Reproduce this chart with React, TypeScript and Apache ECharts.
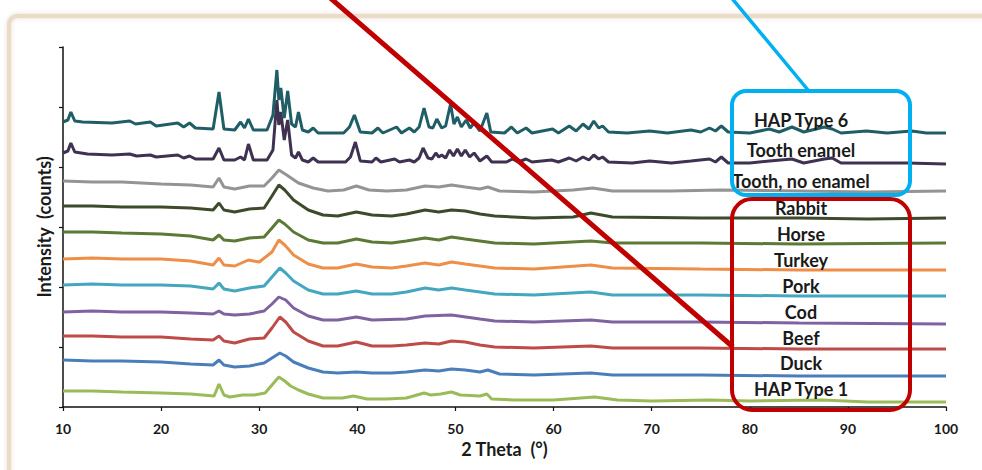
import React, { useEffect, useRef } from "react";
import * as echarts from "echarts";

// 2-theta (deg), intensity (arbitrary counts, stacked offsets)
const hapType1: [number, number][] = [
  [10, 160], [13, 160], [16, 150], [20, 140], [23, 130], [25.4, 110], [25.9, 230], [26.4, 120], [27, 100],
  [28.3, 120], [29.5, 120], [30.6, 140], [31.3, 220], [32, 300], [32.6, 260], [33.2, 210], [34, 170], [35, 130],
  [36.5, 90], [38.5, 90], [39.6, 110], [41, 80], [43, 80], [45, 90], [46.8, 140], [47.5, 120], [48.5, 130],
  [49.6, 150], [50.5, 120], [52.5, 110], [53.2, 130], [53.7, 80], [56, 70], [60, 70], [64.2, 100], [66.5, 70],
  [70, 60], [75.9, 70], [80, 60], [87.4, 70], [92, 50], [100, 50],
];
const duck: [number, number][] = [
  [10, 470], [13, 460], [16, 460], [20, 450], [23, 430], [25.3, 420], [25.9, 470], [26.4, 420], [27.5, 400],
  [29, 410], [30.5, 440], [31.3, 490], [32.1, 540], [32.7, 510], [33.5, 450], [35, 390], [36.5, 350], [38, 340],
  [39.9, 350], [41.5, 340], [43.5, 340], [45, 350], [46.9, 370], [48.3, 360], [49.6, 380], [51, 370], [52.5, 350],
  [53.3, 370], [54.5, 330], [58, 320], [63.8, 340], [66, 320], [75, 320], [85, 310], [100, 310],
];
const beef: [number, number][] = [
  [10, 710], [13, 710], [16, 700], [20, 700], [23, 680], [25.3, 670], [25.9, 710], [26.4, 660], [27.5, 640],
  [29, 680], [30.5, 690], [31.3, 790], [32.1, 900], [32.7, 850], [33.5, 750], [35, 660], [36.5, 610], [38, 610],
  [39.9, 650], [41.5, 610], [43.5, 610], [45, 620], [46.9, 640], [48.3, 630], [49.6, 660], [51, 650], [52.5, 620],
  [54, 600], [58, 590], [63.8, 610], [66, 590], [75, 590], [85, 580], [100, 580],
];
const cod: [number, number][] = [
  [10, 950], [13, 960], [16, 950], [20, 950], [23, 940], [25.3, 930], [25.9, 960], [26.4, 930], [27.5, 920],
  [29, 930], [30.5, 960], [31.3, 1030], [32, 1100], [32.7, 1070], [33.5, 990], [35, 910], [36.5, 870], [38, 870],
  [39.9, 900], [41.5, 870], [45, 880], [46.9, 910], [49.6, 920], [52.5, 880], [54, 860], [58, 850], [63.8, 870],
  [66, 850], [75, 850], [85, 840], [100, 830],
];
const pork: [number, number][] = [
  [10, 1220], [13, 1230], [16, 1220], [20, 1220], [23, 1210], [25.3, 1180], [25.9, 1240], [26.4, 1180], [27.5, 1160],
  [29, 1190], [30.5, 1210], [31.3, 1300], [32.1, 1390], [32.7, 1340], [33.5, 1260], [35, 1170], [36.5, 1130], [38, 1130],
  [39.9, 1160], [41.5, 1130], [43.5, 1130], [45, 1150], [46.9, 1190], [48.3, 1170], [49.6, 1190], [51, 1170], [52.5, 1150],
  [54, 1130], [58, 1120], [63.8, 1150], [66, 1120], [75, 1120], [85, 1110], [100, 1110],
];
const turkey: [number, number][] = [
  [10, 1480], [13, 1490], [16, 1480], [20, 1480], [23, 1460], [25.3, 1420], [25.9, 1490], [26.4, 1420], [27.5, 1410],
  [28.9, 1470], [30, 1450], [31.3, 1550], [32, 1670], [32.6, 1620], [33.5, 1520], [35, 1430], [36.5, 1390], [38, 1390],
  [39.9, 1430], [41.5, 1400], [43.5, 1390], [45, 1410], [46.9, 1440], [48.3, 1420], [49.6, 1450], [51, 1430], [52.5, 1410],
  [54, 1390], [58, 1380], [63.8, 1420], [66, 1390], [75, 1380], [85, 1370], [100, 1370],
];
const horse: [number, number][] = [
  [10, 1750], [13, 1750], [16, 1740], [20, 1730], [23, 1710], [25.3, 1670], [25.9, 1720], [26.4, 1670], [27.5, 1660],
  [29, 1690], [30.5, 1700], [31.3, 1790], [32, 1870], [32.6, 1830], [33.5, 1750], [35, 1670], [36.5, 1640], [38, 1640],
  [39.9, 1680], [41.5, 1650], [43.5, 1640], [45, 1660], [46.9, 1690], [48.3, 1670], [49.6, 1700], [51, 1680], [52.5, 1660],
  [54, 1640], [58, 1630], [63.8, 1660], [66, 1640], [75, 1640], [85, 1630], [100, 1640],
];
const rabbit: [number, number][] = [
  [10, 2010], [13, 2010], [16, 2000], [20, 2000], [23, 1990], [25.3, 1970], [25.9, 2040], [26.4, 1970], [27.5, 1950],
  [29, 1980], [30.5, 1990], [31.3, 2110], [32, 2220], [32.6, 2170], [33.5, 2070], [35, 1970], [36.5, 1920], [38, 1910],
  [39.9, 1950], [41.5, 1920], [43.5, 1910], [45, 1930], [46.9, 1970], [48.3, 1950], [49.6, 1970], [51, 1960], [52.5, 1930],
  [54, 1910], [58, 1890], [62, 1900], [63.8, 1940], [66, 1900], [75, 1890], [85, 1890], [92, 1880], [100, 1890],
];
const toothNoEnamel: [number, number][] = [
  [10, 2260], [13, 2250], [16, 2250], [20, 2230], [23, 2220], [25.3, 2200], [25.9, 2290], [26.4, 2200], [27.5, 2180],
  [29, 2210], [30.5, 2210], [31.3, 2290], [32, 2370], [32.8, 2320], [34, 2240], [35.5, 2190], [37, 2160], [38.6, 2170],
  [39.9, 2210], [41.2, 2170], [43, 2160], [45, 2170], [46.9, 2210], [48.3, 2200], [49.6, 2220], [51, 2200], [52.5, 2180],
  [53.3, 2200], [54.5, 2160], [58, 2150], [62, 2170], [64, 2190], [66, 2160], [72, 2160], [77, 2170], [85, 2160],
  [92, 2150], [100, 2160],
];
const toothEnamel: [number, number][] = [
  [10, 2540], [10.5, 2560], [10.8, 2640], [11.2, 2550], [12.5, 2530], [15, 2520], [16.8, 2530], [17.5, 2510], [18.9, 2520],
  [19.5, 2500], [21.7, 2520], [22.3, 2490], [22.9, 2510], [23.5, 2480], [25.3, 2480], [25.9, 2590], [26.4, 2470],
  [27.5, 2470], [28.1, 2500], [28.5, 2470], [28.9, 2630], [29.4, 2470], [30.8, 2470], [31.4, 2570], [31.8, 3070],
  [32, 2820], [32.2, 2950], [32.55, 2670], [32.9, 2870], [33.3, 2520], [33.7, 2490], [34, 2550], [34.4, 2470],
  [35, 2450], [35.5, 2490], [36, 2450], [38.8, 2450], [39.3, 2500], [39.8, 2650], [40.3, 2460], [41.5, 2450],
  [41.9, 2490], [42.4, 2450], [43.8, 2480], [44.3, 2450], [45.3, 2470], [45.8, 2450], [46.3, 2490], [46.7, 2590],
  [47.2, 2490], [47.6, 2480], [48, 2540], [48.3, 2500], [48.6, 2520], [49, 2490], [49.4, 2570], [49.8, 2510],
  [50.2, 2580], [50.6, 2510], [51, 2570], [51.45, 2500], [51.9, 2540], [52.5, 2460], [53.2, 2510], [53.7, 2450],
  [55.2, 2450], [55.8, 2480], [56.4, 2450], [57.2, 2480], [57.8, 2450], [59.8, 2470], [60.5, 2450], [61.6, 2490],
  [62.3, 2460], [63, 2500], [63.6, 2470], [64.1, 2520], [64.6, 2480], [65, 2500], [65.6, 2450], [68, 2440],
  [69.8, 2460], [72, 2440], [74, 2460], [75.9, 2480], [76.5, 2450], [77.1, 2500], [77.8, 2440], [80, 2440],
  [82, 2460], [84.3, 2480], [85.5, 2440], [87.6, 2480], [88.4, 2490], [89.3, 2440], [92, 2440], [96, 2440], [100, 2430],
];
const hapType6: [number, number][] = [
  [10, 2850], [10.5, 2870], [10.8, 2950], [11.2, 2860], [12, 2850], [15, 2840], [16.8, 2860], [17.4, 2830], [18.9, 2850],
  [19.5, 2810], [21.7, 2840], [22.3, 2800], [22.9, 2840], [23.5, 2790], [25.3, 2780], [25.9, 3150], [26.4, 2780],
  [27.5, 2770], [28.1, 2850], [28.5, 2790], [28.9, 2880], [29.4, 2770], [30.8, 2770], [31.4, 2920], [31.8, 3370],
  [32, 3070], [32.2, 3190], [32.55, 2890], [32.9, 3160], [33.3, 2830], [33.7, 2800], [34, 2950], [34.4, 2770],
  [35, 2750], [35.5, 2790], [36, 2740], [38.6, 2740], [39.2, 2800], [39.7, 2920], [40.3, 2750], [41.5, 2740],
  [42.1, 2790], [42.6, 2740], [44, 2800], [44.5, 2740], [45.3, 2790], [45.8, 2750], [46.3, 2800], [46.8, 2990],
  [47.3, 2800], [47.7, 2790], [48.1, 2880], [48.6, 2790], [49, 2810], [49.5, 3030], [49.85, 2830], [50.2, 2900],
  [50.6, 2800], [51.1, 2870], [51.5, 2790], [51.9, 2840], [52.5, 2760], [53.2, 2940], [53.6, 2750], [55, 2740],
  [55.7, 2800], [56.3, 2740], [57.2, 2790], [57.8, 2740], [59.9, 2780], [60.5, 2740], [61.6, 2810], [62.3, 2760],
  [63, 2830], [63.6, 2780], [64.1, 2860], [64.6, 2790], [65, 2810], [65.6, 2750], [67.5, 2740], [69.8, 2760],
  [71.6, 2740], [74, 2770], [75, 2750], [75.9, 2790], [76.5, 2760], [77.1, 2810], [77.8, 2750], [80, 2740],
  [82, 2780], [83, 2750], [84.3, 2800], [85.5, 2750], [87.6, 2800], [88.4, 2780], [89.3, 2740], [91.9, 2760],
  [94, 2740], [96.5, 2760], [98, 2740], [100, 2740],
];

// bottom to top
const seriesNames = [
  "HAP Type 1", "Duck", "Beef", "Cod", "Pork", "Turkey", "Horse", "Rabbit",
  "Tooth, no enamel", "Tooth enamel", "HAP Type 6",
];
const seriesData = [
  hapType1, duck, beef, cod, pork, turkey, horse, rabbit, toothNoEnamel, toothEnamel, hapType6,
];
const seriesColors = [
  "#9BBB59", "#4A7EBB", "#BE4B48", "#7F63A1", "#44A6BF", "#EE8E48", "#5B7A36", "#3E4A2C",
  "#949494", "#3F3151", "#1F5E66",
];
const xTicks = { min: 10, max: 100, interval: 10 };
const labelOrderTopDown = [
  "HAP Type 6", "Tooth enamel", "Tooth, no enamel", "Rabbit", "Horse", "Turkey", "Pork", "Cod", "Beef", "Duck", "HAP Type 1",
];

const FONT = "Lato, 'Open Sans', sans-serif";

export default function App() {
  const ref = useRef<HTMLDivElement>(null);
  useEffect(() => {
    document.body.style.margin = "0";
    document.body.style.overflow = "hidden";
    if (!ref.current) return;
    const chart = echarts.init(ref.current, undefined, { renderer: "svg" });
    const labelY = [120, 150, 181, 208, 234, 260, 286, 312, 338, 363, 389];
    const option: any = {
      animation: false,
      backgroundColor: "#ffffff",
      grid: { left: 63, right: 36, top: 47, bottom: 63 },
      xAxis: {
        type: "value",
        min: xTicks.min,
        max: xTicks.max,
        interval: xTicks.interval,
        name: "2 Theta  (°)",
        nameLocation: "middle",
        nameGap: 33,
        nameTextStyle: { fontFamily: FONT, fontWeight: "bold", fontSize: 18, color: "#1a1a1a" },
        axisLine: { show: true, lineStyle: { color: "#111", width: 1.5 } },
        axisTick: { show: true, inside: false, length: 4, lineStyle: { color: "#111", width: 1.2 } },
        axisLabel: { fontFamily: FONT, fontWeight: "bold", fontSize: 14, color: "#1a1a1a", margin: 14 },
        splitLine: { show: false },
      },
      yAxis: {
        type: "value",
        min: 0,
        max: 3600,
        interval: 600,
        name: "Intensity  (counts)",
        nameLocation: "middle",
        nameGap: 10,
        nameRotate: 90,
        nameTextStyle: { fontFamily: FONT, fontWeight: "bold", fontSize: 18, color: "#1a1a1a" },
        axisLine: { show: true, lineStyle: { color: "#111", width: 1.5 } },
        axisTick: { show: true, inside: false, length: 4, lineStyle: { color: "#111", width: 1.2 } },
        axisLabel: { show: false },
        splitLine: { show: false },
      },
      series: seriesData.map((d, i) => ({
        name: seriesNames[i],
        type: "line",
        data: d,
        showSymbol: false,
        symbol: "none",
        z: 2 + i,
        lineStyle: { color: seriesColors[i], width: 3 },
        itemStyle: { color: seriesColors[i] },
      })),
      graphic: [
        {
          type: "rect",
          z: -10,
          silent: true,
          shape: { x: 9, y: 16, width: 1020, height: 520, r: 8 },
          style: { fill: "none", stroke: "#EADCC9", lineWidth: 4, shadowBlur: 4, shadowColor: "rgba(180,150,110,0.35)" },
        },
        ...labelOrderTopDown.map((t, i) => ({
          type: "text",
          z: 100,
          x: 801,
          y: labelY[i],
          style: {
            text: t,
            fill: "#1a1a1a",
            font: `bold 18px ${FONT}`,
            textAlign: "center",
            textVerticalAlign: "middle",
          },
        })),
        {
          type: "rect",
          z: 110,
          shape: { x: 732, y: 91, width: 178, height: 104, r: 14 },
          style: { fill: "none", stroke: "#00B0F0", lineWidth: 4 },
        },
        {
          type: "rect",
          z: 110,
          shape: { x: 732, y: 199, width: 178, height: 211, r: 20 },
          style: { fill: "none", stroke: "#C00000", lineWidth: 4 },
        },
        {
          type: "line",
          z: 110,
          shape: { x1: 730, y1: -4, x2: 808, y2: 90 },
          style: { stroke: "#00B0F0", lineWidth: 3.5 },
        },
        {
          type: "line",
          z: 110,
          shape: { x1: 328, y1: -4, x2: 733, y2: 347 },
          style: { stroke: "#C00000", lineWidth: 5 },
        },
      ],
    };
    chart.setOption(option);
    return () => chart.dispose();
  }, []);
  return <div ref={ref} style={{ width: 982, height: 470 }} />;
}
